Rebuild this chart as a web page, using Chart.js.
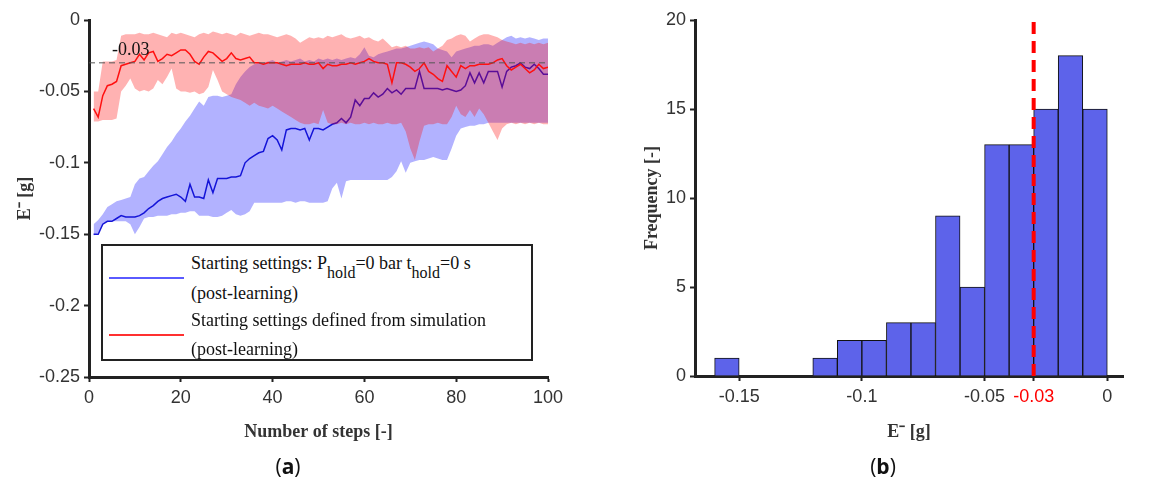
<!DOCTYPE html>
<html>
<head>
<meta charset="utf-8">
<script src="https://cdn.jsdelivr.net/npm/chart.js@4.4.1/dist/chart.umd.min.js"></script>
<style>
  html, body { margin: 0; padding: 0; background: #fff; }
  #wrap { position: relative; width: 1156px; height: 481px; overflow: hidden; }
  canvas { position: absolute; top: 0; }
  #chartA { left: 0; }
  #chartB { left: 578px; }
  .panel { position: absolute; top: 452px; font-family: "Open Sans", sans-serif; font-size: 21px; color: #111; transform: translateX(-50%); }
  #legendA { position: absolute; left: 101px; top: 244px; width: 432px; height: 117px; box-sizing: border-box;
             border: 2.5px solid #222; background: #fff; font-family: "Liberation Serif", serif; font-size: 18px; color: #111; }
  #legendA .sw { position: absolute; left: 6px; width: 75px; height: 2px; }
  #legendA .ln { position: absolute; left: 88px; line-height: 29px; white-space: nowrap; }
  #legendA sub { font-size: 16px; vertical-align: baseline; position: relative; top: 9px; }
</style>
</head>
<body>
<div id="wrap">
  <canvas id="chartA" width="578" height="481"></canvas>
  <canvas id="chartB" width="578" height="481"></canvas>
  <div id="legendA">
    <div class="sw" style="top:31px; background:#5a5aff;"></div>
    <div class="ln" style="top:3px;">Starting settings: P<sub>hold</sub>=0 bar t<sub>hold</sub>=0 s</div>
    <div class="ln" style="top:33px;">(post-learning)</div>
    <div class="sw" style="top:88px; background:#ff3030;"></div>
    <div class="ln" style="top:60px;">Starting settings defined from simulation</div>
    <div class="ln" style="top:89px;">(post-learning)</div>
  </div>
  <div class="panel" style="left:288px;">(<b>a</b>)</div>
  <div class="panel" style="left:883px;">(<b>b</b>)</div>
</div>
<script>
// ---- panel (a) data: E- per learning step ----
const steps = Array.from({ length: 100 }, (_, i) => i + 1);

const redMean = [
  -0.062, -0.068, -0.053, -0.046, -0.045, -0.043, -0.032, -0.031, -0.030, -0.029,
  -0.024, -0.028, -0.023, -0.022, -0.029, -0.027, -0.024, -0.025, -0.023, -0.021,
  -0.021, -0.024, -0.029, -0.031, -0.026, -0.022, -0.023, -0.026, -0.029, -0.027,
  -0.023, -0.027, -0.028, -0.027, -0.026, -0.030, -0.030, -0.031, -0.030, -0.030,
  -0.030, -0.031, -0.032, -0.031, -0.031, -0.031, -0.030, -0.031, -0.031, -0.030,
  -0.034, -0.031, -0.032, -0.032, -0.031, -0.031, -0.030, -0.031, -0.030, -0.029,
  -0.027, -0.029, -0.030, -0.030, -0.031, -0.044, -0.030, -0.030, -0.031, -0.033,
  -0.036, -0.034, -0.030, -0.036, -0.038, -0.041, -0.043, -0.032, -0.036, -0.040,
  -0.032, -0.034, -0.032, -0.032, -0.031, -0.031, -0.031, -0.030, -0.028, -0.027,
  -0.032, -0.035, -0.033, -0.031, -0.034, -0.037, -0.035, -0.031, -0.034, -0.033
];
const redHi = [
  -0.050, -0.050, -0.029, -0.029, -0.029, -0.028, -0.011, -0.010, -0.010, -0.010,
  -0.009, -0.010, -0.010, -0.009, -0.010, -0.011, -0.012, -0.009, -0.010, -0.009,
  -0.010, -0.011, -0.012, -0.010, -0.009, -0.010, -0.008, -0.009, -0.010, -0.009,
  -0.010, -0.011, -0.009, -0.010, -0.011, -0.010, -0.009, -0.010, -0.010, -0.011,
  -0.012, -0.011, -0.010, -0.011, -0.013, -0.016, -0.014, -0.012, -0.013, -0.012,
  -0.013, -0.011, -0.012, -0.011, -0.010, -0.012, -0.013, -0.012, -0.011, -0.013,
  -0.012, -0.014, -0.015, -0.013, -0.016, -0.019, -0.018, -0.019, -0.018, -0.020,
  -0.020, -0.019, -0.020, -0.019, -0.022, -0.020, -0.018, -0.014, -0.013, -0.011,
  -0.010, -0.011, -0.015, -0.013, -0.011, -0.010, -0.010, -0.011, -0.012, -0.014,
  -0.015, -0.016, -0.017, -0.016, -0.017, -0.016, -0.017, -0.016, -0.017, -0.016
];
const redLo = [
  -0.071, -0.071, -0.070, -0.070, -0.070, -0.069, -0.050, -0.046, -0.041, -0.048,
  -0.050, -0.049, -0.050, -0.048, -0.042, -0.045, -0.040, -0.034, -0.048, -0.050,
  -0.050, -0.051, -0.050, -0.052, -0.051, -0.047, -0.035, -0.042, -0.050, -0.052,
  -0.054, -0.055, -0.056, -0.058, -0.060, -0.058, -0.060, -0.061, -0.062, -0.060,
  -0.062, -0.064, -0.066, -0.068, -0.070, -0.072, -0.073, -0.073, -0.072, -0.073,
  -0.063, -0.072, -0.073, -0.073, -0.072, -0.073, -0.072, -0.073, -0.073, -0.072,
  -0.073, -0.072, -0.073, -0.073, -0.072, -0.073, -0.073, -0.072, -0.078, -0.090,
  -0.098, -0.085, -0.074, -0.073, -0.073, -0.072, -0.073, -0.073, -0.068, -0.060,
  -0.066, -0.068, -0.063, -0.068, -0.062, -0.066, -0.072, -0.078, -0.084, -0.076,
  -0.073, -0.072, -0.073, -0.072, -0.073, -0.072, -0.073, -0.072, -0.073, -0.073
];
const blueMean = [
  -0.150, -0.150, -0.143, -0.141, -0.141, -0.139, -0.137, -0.138, -0.138, -0.138,
  -0.137, -0.135, -0.132, -0.130, -0.127, -0.125, -0.124, -0.123, -0.122, -0.124,
  -0.127, -0.115, -0.124, -0.124, -0.125, -0.112, -0.121, -0.111, -0.111, -0.111,
  -0.110, -0.110, -0.109, -0.100, -0.097, -0.095, -0.093, -0.092, -0.083, -0.081,
  -0.084, -0.091, -0.077, -0.076, -0.076, -0.077, -0.076, -0.084, -0.076, -0.076,
  -0.077, -0.075, -0.073, -0.072, -0.069, -0.072, -0.068, -0.056, -0.060, -0.055,
  -0.055, -0.051, -0.054, -0.052, -0.048, -0.051, -0.049, -0.052, -0.048, -0.048,
  -0.048, -0.036, -0.048, -0.048, -0.048, -0.048, -0.049, -0.048, -0.049, -0.050,
  -0.049, -0.046, -0.037, -0.044, -0.037, -0.044, -0.036, -0.036, -0.036, -0.047,
  -0.036, -0.033, -0.032, -0.030, -0.033, -0.034, -0.031, -0.034, -0.038, -0.038
];
const blueHi = [
  -0.143, -0.140, -0.136, -0.131, -0.129, -0.127, -0.126, -0.125, -0.124, -0.115,
  -0.111, -0.110, -0.106, -0.102, -0.099, -0.094, -0.089, -0.085, -0.080, -0.076,
  -0.071, -0.067, -0.062, -0.057, -0.060, -0.054, -0.053, -0.053, -0.054, -0.053,
  -0.052, -0.045, -0.040, -0.036, -0.033, -0.031, -0.030, -0.030, -0.029, -0.028,
  -0.030, -0.029, -0.028, -0.029, -0.028, -0.027, -0.029, -0.028, -0.029, -0.027,
  -0.028, -0.027, -0.028, -0.027, -0.028, -0.027, -0.026, -0.027, -0.024, -0.019,
  -0.025, -0.026, -0.024, -0.023, -0.022, -0.021, -0.020, -0.020, -0.019, -0.018,
  -0.017, -0.016, -0.015, -0.016, -0.017, -0.020, -0.021, -0.022, -0.026, -0.022,
  -0.021, -0.020, -0.019, -0.018, -0.018, -0.017, -0.017, -0.018, -0.016, -0.014,
  -0.012, -0.011, -0.013, -0.012, -0.013, -0.012, -0.013, -0.014, -0.013, -0.013
];
const blueLo = [
  -0.151, -0.149, -0.143, -0.141, -0.141, -0.141, -0.141, -0.141, -0.143, -0.150,
  -0.145, -0.139, -0.138, -0.138, -0.137, -0.137, -0.137, -0.136, -0.136, -0.135,
  -0.135, -0.134, -0.134, -0.137, -0.137, -0.137, -0.138, -0.138, -0.137, -0.135,
  -0.133, -0.136, -0.137, -0.136, -0.134, -0.128, -0.128, -0.128, -0.128, -0.128,
  -0.128, -0.128, -0.127, -0.127, -0.128, -0.127, -0.127, -0.128, -0.128, -0.128,
  -0.128, -0.127, -0.118, -0.114, -0.125, -0.113, -0.112, -0.112, -0.112, -0.112,
  -0.112, -0.112, -0.112, -0.112, -0.112, -0.110, -0.106, -0.099, -0.107, -0.100,
  -0.099, -0.098, -0.098, -0.097, -0.096, -0.097, -0.098, -0.098, -0.090, -0.081,
  -0.076, -0.075, -0.074, -0.074, -0.073, -0.073, -0.072, -0.072, -0.072, -0.072,
  -0.072, -0.072, -0.072, -0.072, -0.072, -0.072, -0.072, -0.072, -0.072, -0.072
];
const targetValue = -0.03;
const xTicksA = [0, 20, 40, 60, 80, 100];
const yTicksA = [0, -0.05, -0.1, -0.15, -0.2, -0.25];

// ---- panel (b) data: histogram of E- ----
const binStarts = [-0.16, -0.12, -0.11, -0.10, -0.09, -0.08, -0.07, -0.06, -0.05, -0.04, -0.03, -0.02, -0.01];
const binCounts = [1, 1, 2, 2, 3, 3, 9, 5, 13, 13, 15, 18, 15];
const binWidth = 0.01;
const xTicksB = [-0.15, -0.1, -0.05, -0.03, 0];
const yTicksB = [0, 5, 10, 15, 20];

const axisColor = '#222';
const tickFont = { family: 'Liberation Sans', size: 18 };
const titleFont = { family: 'Liberation Serif', size: 18, weight: 'bold' };

function fmt(v) {
    return String(Math.round(v * 100) / 100);
}
function pts(xs, ys) {
    return xs.map((x, i) => ({ x: x, y: ys[i] }));
}

// label of the -0.03 reference line in panel (a)
const refLabel = {
    id: 'refLabel',
    afterDatasetsDraw(chart) {
        const { ctx, scales: { x, y } } = chart;
        ctx.save();
        ctx.font = '18px "Liberation Serif"';
        ctx.fillStyle = '#111';
        ctx.textAlign = 'left';
        ctx.textBaseline = 'bottom';
        ctx.fillText(fmt(targetValue), x.getPixelForValue(5), y.getPixelForValue(targetValue) - 4);
        ctx.restore();
    }
};

var ctxA = document.getElementById('chartA').getContext('2d');
new Chart(ctxA, {
    type: 'line',
    data: {
        datasets: [
            { data: pts([0, 100], [targetValue, targetValue]), borderColor: '#555', borderWidth: 1, borderDash: [6, 4], order: 0 },
            { data: pts(steps, redMean), borderColor: '#ff1010', borderWidth: 1.5, order: 1 },
            { data: pts(steps, redHi), borderWidth: 0, borderColor: 'transparent', fill: '+1', backgroundColor: 'rgba(255, 0, 0, 0.3)', order: 2 },
            { data: pts(steps, redLo), borderWidth: 0, borderColor: 'transparent', order: 2 },
            { data: pts(steps, blueMean), borderColor: '#1414d8', borderWidth: 1.5, order: 3 },
            { data: pts(steps, blueHi), borderWidth: 0, borderColor: 'transparent', fill: '+1', backgroundColor: 'rgba(0, 0, 255, 0.3)', order: 4 },
            { data: pts(steps, blueLo), borderWidth: 0, borderColor: 'transparent', order: 4 },
        ]
    },
    options: {
        responsive: false,
        animation: false,
        layout: { padding: { top: 20, right: 30, bottom: 0, left: 0 } },
        elements: { point: { radius: 0 }, line: { tension: 0 } },
        plugins: { legend: { display: false }, tooltip: { enabled: false } },
        scales: {
            x: {
                type: 'linear', min: 0, max: 100,
                afterFit: s => { s.height = 104; },
                afterBuildTicks: s => { s.ticks = xTicksA.map(v => ({ value: v })); },
                grid: { drawOnChartArea: false, drawTicks: true, tickLength: 5, tickWidth: 2, tickColor: axisColor },
                border: { display: true, width: 3, color: axisColor },
                ticks: { color: '#333', font: tickFont, padding: 5, maxRotation: 0, callback: v => fmt(v) },
                title: { display: true, text: 'Number of steps [-]', color: '#333', font: titleFont, padding: { top: 0, bottom: 38 } }
            },
            y: {
                type: 'linear', min: -0.25, max: 0,
                afterFit: s => { s.width = 89; },
                afterBuildTicks: s => { s.ticks = yTicksA.map(v => ({ value: v })); },
                grid: { drawOnChartArea: false, drawTicks: true, tickLength: 5, tickWidth: 2, tickColor: axisColor },
                border: { display: true, width: 3, color: axisColor },
                ticks: { color: '#333', font: tickFont, padding: 4, callback: v => fmt(v) },
                title: { display: true, text: 'E\u207B [g]', color: '#333', font: titleFont, padding: { top: 15, bottom: 0 } }
            }
        }
    },
    plugins: [refLabel]
});

var ctxB = document.getElementById('chartB').getContext('2d');
new Chart(ctxB, {
    type: 'bar',
    data: {
        datasets: [
            {
                type: 'line',
                data: pts([targetValue, targetValue], [0, 20]),
                borderColor: '#ff0000', borderWidth: 4, borderDash: [12, 7],
                pointRadius: 0, order: 0
            },
            {
                data: pts(binStarts.map(b => b + binWidth / 2), binCounts),
                backgroundColor: '#5d63ea', borderColor: '#111', borderWidth: 1,
                barPercentage: 1, categoryPercentage: 1, order: 1
            }
        ]
    },
    options: {
        responsive: false,
        animation: false,
        layout: { padding: { top: 20, right: 33, bottom: 0, left: 0 } },
        plugins: { legend: { display: false }, tooltip: { enabled: false } },
        scales: {
            x: {
                type: 'linear', min: -0.168, max: 0.0064, offset: false,
                afterFit: s => { s.height = 105; },
                afterBuildTicks: s => { s.ticks = xTicksB.map(v => ({ value: v })); },
                grid: { offset: false, drawOnChartArea: false, drawTicks: true, tickLength: 5, tickWidth: 2, tickColor: axisColor },
                border: { display: true, width: 3, color: axisColor },
                ticks: {
                    font: tickFont, padding: 5, maxRotation: 0, autoSkip: false,
                    color: c => (c.tick && c.tick.value === targetValue ? '#ff0000' : '#333'),
                    callback: v => fmt(v)
                },
                title: { display: true, text: 'E\u207B [g]', color: '#333', font: titleFont, padding: { top: 0, bottom: 38 } }
            },
            y: {
                type: 'linear', min: 0, max: 20,
                afterFit: s => { s.width = 117; },
                afterBuildTicks: s => { s.ticks = yTicksB.map(v => ({ value: v })); },
                grid: { drawOnChartArea: false, drawTicks: true, tickLength: 5, tickWidth: 2, tickColor: axisColor },
                border: { display: true, width: 3, color: axisColor },
                ticks: { color: '#333', font: tickFont, padding: 4, callback: v => fmt(v) },
                title: { display: true, text: 'Frequency [-]', color: '#333', font: titleFont, padding: { top: 64, bottom: 0 } }
            }
        }
    }
});
</script>
</body>
</html>
